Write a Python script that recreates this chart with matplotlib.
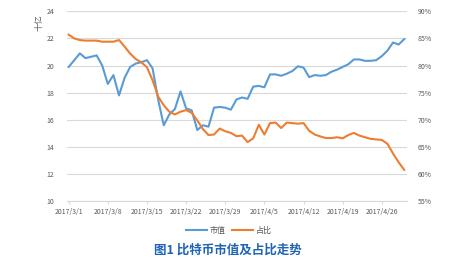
import numpy as np
import matplotlib.pyplot as plt
from matplotlib.ticker import FuncFormatter

plt.rcParams['font.family'] = ['Noto Sans CJK SC', 'DejaVu Sans']

# ---- données ----
# 61 jours : 2017/3/1 -> 2017/4/30
market_cap = [19.9, 20.4, 20.9, 20.55, 20.65, 20.75, 20.0, 18.65, 19.3, 17.8,
              19.1, 19.9, 20.15, 20.25, 20.4, 19.8, 17.5, 15.6, 16.4, 16.8,
              18.1, 16.85, 16.7, 15.25, 15.6, 15.5, 16.9, 16.95, 16.9, 16.75,
              17.5, 17.65, 17.55, 18.45, 18.5, 18.4, 19.35, 19.35, 19.25, 19.4,
              19.6, 19.95, 19.85, 19.15, 19.3, 19.25, 19.3, 19.55, 19.7, 19.9,
              20.1, 20.45, 20.45, 20.35, 20.35, 20.4, 20.7, 21.1, 21.7, 21.55,
              21.95]
share_pct = [85.7, 85.0, 84.7, 84.6, 84.6, 84.6, 84.4, 84.4, 84.4, 84.7,
             83.5, 82.2, 81.2, 80.6, 79.7, 77.3, 74.3, 72.7, 71.5, 71.0,
             71.5, 71.8, 71.3, 69.9, 68.3, 67.2, 67.3, 68.4, 67.9, 67.6,
             67.0, 67.1, 65.9, 66.6, 69.1, 67.3, 69.4, 69.5, 68.5, 69.5,
             69.4, 69.3, 69.4, 68.0, 67.3, 66.95, 66.65, 66.65, 66.8, 66.6,
             67.2, 67.6, 67.1, 66.8, 66.5, 66.4, 66.3, 65.6, 63.8, 62.2,
             60.8]
tick_labels = ['2017/3/1', '2017/3/8', '2017/3/15', '2017/3/22', '2017/3/29',
               '2017/4/5', '2017/4/12', '2017/4/19', '2017/4/26']

days = np.arange(len(market_cap))
tick_pos = np.arange(len(tick_labels)) * 7

BLUE = '#5b9bd5'
ORANGE = '#ed7d31'
GRID = '#d9d9d9'
TXT = '#595959'

fig = plt.figure(figsize=(4.74, 2.6), dpi=100)
ax = fig.add_axes([67 / 474, 1 - 201.3 / 260, 340 / 474, 190 / 260])
ax2 = ax.twinx()

l1, = ax.plot(days, market_cap, color=BLUE, linewidth=1.5, label='市值')
l2, = ax2.plot(days, share_pct, color=ORANGE, linewidth=1.5, label='占比')

ax.set_xlim(-0.3, 60.5)
ax.set_ylim(10, 24)
ax.set_yticks(np.arange(10, 25, 2))
ax2.set_ylim(55, 90)
ax2.set_yticks(np.arange(55, 91, 5))
ax2.yaxis.set_major_formatter(FuncFormatter(lambda v, p: f'{int(v)}%'))

ax.set_xticks(tick_pos)
ax.set_xticklabels(tick_labels)

ax.grid(axis='y', color=GRID, linewidth=0.8)
ax.set_axisbelow(True)
for a in (ax, ax2):
    for s in a.spines.values():
        s.set_visible(False)
ax.spines['bottom'].set_visible(True)
ax.spines['bottom'].set_color(GRID)
ax.spines['bottom'].set_linewidth(0.8)

ax.tick_params(axis='x', colors=GRID, length=2.5, width=0.8, labelsize=5,
               labelcolor=TXT, pad=2)
ax.tick_params(axis='y', length=0, labelsize=5, labelcolor=TXT, pad=9)
ax2.tick_params(axis='y', length=0, labelsize=5, labelcolor=TXT, pad=8)

fig.text(39 / 474, 1 - 23 / 260, '十亿', rotation=90, fontsize=6,
         color=TXT, ha='center', va='center')

fig.legend(handles=[l1, l2], loc='center', bbox_to_anchor=(229 / 474, 1 - 230 / 260),
           ncol=2, frameon=False, fontsize=5.8, labelcolor=TXT,
           handlelength=2.6, columnspacing=0.8, handletextpad=0.3)

fig.text(228 / 474, 1 - 250 / 260, '图1 比特币市值及占比走势', fontsize=9,
         fontweight='bold', color='#1f64b4', ha='center', va='center')

fig.savefig('out.png', dpi=100)
